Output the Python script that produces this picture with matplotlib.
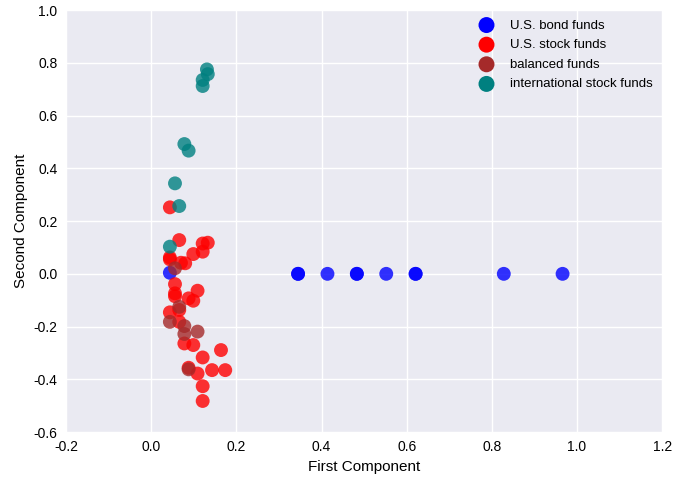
import numpy as np
import matplotlib
matplotlib.use("Agg")
import matplotlib.pyplot as plt

# PCA scores (first, second component)
bond_x = [0.345, 0.345, 0.414, 0.483, 0.483, 0.552, 0.621, 0.621, 0.828, 0.966, 0.044]
bond_y = [0.0, 0.0, 0.0, 0.0, 0.0, 0.0, 0.0, 0.0, 0.0, 0.0, 0.004]

stock_x = [0.044, 0.066, 0.121, 0.133, 0.121, 0.099, 0.044, 0.044, 0.070, 0.080,
           0.056, 0.056, 0.056, 0.109, 0.088, 0.099, 0.066, 0.044, 0.066, 0.078,
           0.099, 0.164, 0.121, 0.088, 0.109, 0.143, 0.174, 0.121, 0.121]
stock_y = [0.252, 0.128, 0.115, 0.118, 0.084, 0.075, 0.062, 0.055, 0.042, 0.040,
           -0.039, -0.074, -0.085, -0.064, -0.093, -0.102, -0.137, -0.146, -0.182, -0.264,
           -0.270, -0.289, -0.317, -0.356, -0.378, -0.365, -0.365, -0.426, -0.482]

balanced_x = [0.056, 0.066, 0.044, 0.078, 0.109, 0.078, 0.088]
balanced_y = [0.021, -0.125, -0.182, -0.198, -0.219, -0.228, -0.362]

intl_x = [0.131, 0.133, 0.121, 0.121, 0.078, 0.088, 0.056, 0.066, 0.044]
intl_y = [0.775, 0.757, 0.735, 0.712, 0.492, 0.467, 0.343, 0.257, 0.103]

groups = [
    ("U.S. bond funds", bond_x, bond_y, "blue"),
    ("U.S. stock funds", stock_x, stock_y, "red"),
    ("balanced funds", balanced_x, balanced_y, "brown"),
    ("international stock funds", intl_x, intl_y, "teal"),
]

plt.rcParams["font.family"] = ["Liberation Sans", "DejaVu Sans"]
plt.rcParams["axes.unicode_minus"] = False

fig = plt.figure(figsize=(6.73, 4.78), dpi=100)
ax = fig.add_axes([0.098, 0.096, 0.886, 0.883])
ax.set_facecolor("#EAEAF2")
for s in ax.spines.values():
    s.set_visible(False)
ax.grid(True, color="white", linewidth=1.0)
ax.set_axisbelow(True)

for name, xs, ys, col in groups:
    ax.scatter(xs, ys, s=100, c=col, alpha=0.8, edgecolors="none", label=name)

ax.set_xlim(-0.2, 1.2)
ax.set_ylim(-0.6, 1.0)
ax.set_xticks(np.arange(-0.2, 1.21, 0.2))
ax.set_yticks(np.arange(-0.6, 1.01, 0.2))
ax.tick_params(length=0, labelsize=10, colors="black", pad=6)
ax.set_xlabel("First Component", fontsize=11)
ax.set_ylabel("Second Component", fontsize=11)

leg = ax.legend(loc="upper right", frameon=False, scatterpoints=1, fontsize=9.5,
                handletextpad=0.8, labelspacing=0.56, markerscale=1.15,
                borderaxespad=0.3)
for h in leg.legend_handles:
    h.set_alpha(1.0)

fig.savefig("out.png", dpi=100)
